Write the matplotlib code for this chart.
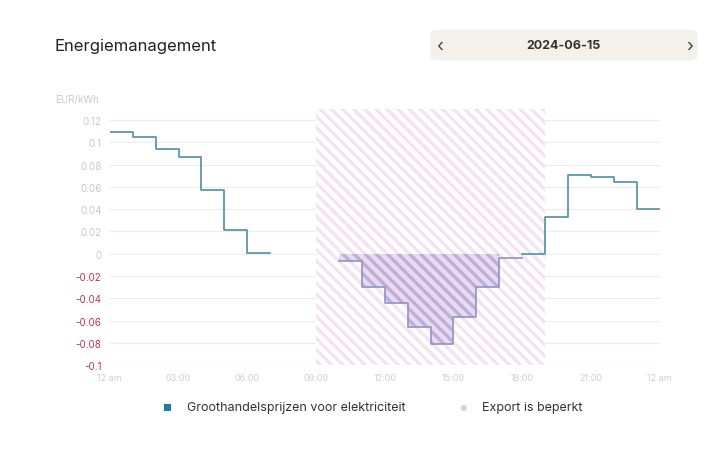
import numpy as np
import matplotlib
matplotlib.use('Agg')
import matplotlib.pyplot as plt
from matplotlib.patches import FancyBboxPatch
plt.rcParams['font.family'] = ['Inter', 'DejaVu Sans']
plt.rcParams['hatch.linewidth'] = 2.4

# hourly wholesale prices (EUR/kWh), nan = no value
hours = np.arange(24)
prices = [0.109, 0.105, 0.094, 0.087, 0.057, 0.021, 0.001, np.nan,
          np.nan, np.nan, -0.007, -0.030, -0.044, -0.066, -0.081, -0.057,
          -0.030, -0.004, 0.0, 0.033, 0.071, 0.069, 0.064, 0.040]
export_limited = (9, 19)
yticks = [0.12, 0.1, 0.08, 0.06, 0.04, 0.02, 0, -0.02, -0.04, -0.06, -0.08, -0.1]
ylabels = ['0.12', '0.1', '0.08', '0.06', '0.04', '0.02', '0',
           '-0.02', '-0.04', '-0.06', '-0.08', '-0.1']
xticks = [0, 3, 6, 9, 12, 15, 18, 21, 24]
xlabels = ['12 am', '03:00', '06:00', '09:00', '12:00', '15:00', '18:00', '21:00', '12 am']
date = '2024-06-15'

HATCH = chr(92) * 3  # backslash stripes

fig = plt.figure(figsize=(7.04, 4.52), dpi=100)
fig.patch.set_facecolor('white')
ax = fig.add_axes([0.156, 0.190, 0.781, 0.567])

x = np.arange(25)
p = np.array(prices + [prices[-1]])
pos = np.where(p >= 0, p, np.nan)
neg = np.where(p < 0, p, np.nan)

# export limited band
ax.axvspan(*export_limited, facecolor='white', edgecolor='#f3e3f1',
           hatch=HATCH, linewidth=0, zorder=1)

for t in yticks:
    ax.axhline(t, color='#ececec', lw=0.8, zorder=0.5)

ax.fill_between(x, np.nan_to_num(neg), 0, where=~np.isnan(neg), step='post',
                facecolor='#e6dbef', edgecolor='#c2acd9', hatch=HATCH,
                linewidth=0, zorder=2)
ax.step(x, neg, where='post', color='#8f94c4', lw=1.2, zorder=3)
ax.step(x, pos, where='post', color='#4f8ea6', lw=1.2, zorder=3)

ax.set_xlim(0, 24)
ax.set_ylim(-0.1, 0.13)
ax.set_yticks(yticks)
ax.set_yticklabels(ylabels, fontsize=7)
for lab, t in zip(ax.get_yticklabels(), yticks):
    lab.set_color('#c4314b' if t < 0 else '#c8c8c8')
ax.set_xticks(xticks)
ax.set_xticklabels(xlabels, fontsize=6.5, color='#cfcfcf')
ax.tick_params(length=0, pad=6)
for s in ax.spines.values():
    s.set_visible(False)

fig.text(0.078, 0.898, 'Energiemanagement', fontsize=12, color='#222222',
         va='center', ha='left')
fig.text(0.078, 0.778, 'EUR/kWh', fontsize=7, color='#c8c8c8', va='center')

# date selector
pill = FancyBboxPatch((0.611, 0.864), 0.380, 0.068, transform=fig.transFigure,
                      boxstyle='round,pad=0,rounding_size=0.012',
                      facecolor='#f4f1ea', edgecolor='none')
fig.patches.append(pill)
fig.text(0.800, 0.898, date, fontsize=9, fontweight='bold', color='#333333',
         ha='center', va='center')
fig.text(0.625, 0.896, '‹', fontsize=13, color='#444444', ha='center', va='center')
fig.text(0.980, 0.896, '›', fontsize=13, color='#444444', ha='center', va='center')

# legend
fig.text(0.237, 0.097, '■', fontsize=7, color='#1f7f99', ha='center', va='center')
fig.text(0.265, 0.097, 'Groothandelsprijzen voor elektriciteit', fontsize=9,
         color='#333333', va='center')
fig.text(0.658, 0.097, '●', fontsize=6, color='#d4d4d4', ha='center', va='center')
fig.text(0.684, 0.097, 'Export is beperkt', fontsize=9, color='#333333', va='center')

fig.savefig('out.png', dpi=100)
